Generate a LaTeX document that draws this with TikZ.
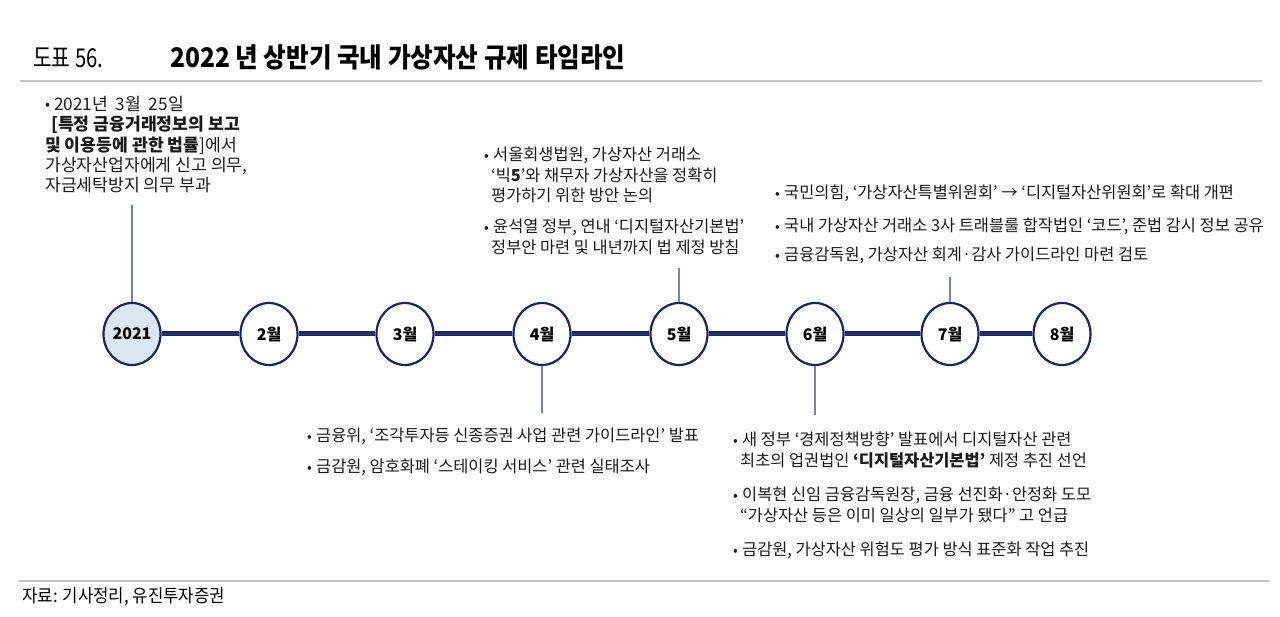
\documentclass[tikz,border=0pt]{standalone}
\usepackage{fontspec}
\setmainfont{Noto Sans CJK KR}
\usetikzlibrary{shapes.geometric}
\definecolor{navy}{HTML}{1B2556}
\definecolor{navymid}{HTML}{27356C}
\definecolor{conn}{HTML}{6F86AE}
\definecolor{rule}{HTML}{C4C4C4}
\definecolor{firstfill}{HTML}{DCE6F2}
\definecolor{txt}{HTML}{1A1A1A}
\newcommand{\bul}{\makebox[9pt][l]{\raisebox{0.5pt}{\scalebox{0.85}{•}}}}
\newcommand{\ind}{\hspace*{7pt}}
\tikzset{
  month/.style={ellipse, draw=navy, line width=2.2pt, fill=white, minimum width=57pt, minimum height=62pt, inner sep=0pt, font=\fontsize{16}{18}\selectfont\bfseries, text=black},
  spine/.style={draw=navy, line width=1.8pt, double=navymid, double distance=1.4pt},
  tick/.style={draw=conn, line width=1.1pt},
  note/.style={anchor=north west, inner sep=0pt, align=left, text=txt, font=\fontsize{16.4}{20.3}\selectfont},
  hrule/.style={draw=rule, line width=1.3pt}
}
\begin{document}
\begin{tikzpicture}[x=1pt,y=-1pt]
\useasboundingbox (0,0) rectangle (1280,617);
% header
\node[anchor=base west, inner sep=0pt, font=\fontsize{26}{28}\selectfont] (hdr) at (33,68) {\scalebox{0.78}[1]{도표 56.}};
\node[anchor=base west, inner sep=0pt, font=\fontsize{27}{30}\selectfont\bfseries] (title) at (170,68) {\scalebox{0.91}[1]{2022 년 상반기 국내 가상자산 규제 타임라인}};
\draw[hrule] (20,81) -- (1262,81);
\draw[hrule] (18,581) -- (1270,581);
\node[anchor=base west, inner sep=0pt, font=\fontsize{18}{20}\selectfont] (src) at (22,602) {\scalebox{0.93}[1]{자료: 기사정리, 유진투자증권}};
% months
\node[month, fill=firstfill] (c2021) at (132,334) {2021};
\node[month] (m2) at (269,334) {2월};
\node[month] (m3) at (405,334) {3월};
\node[month] (m4) at (542,334) {4월};
\node[month] (m5) at (679,334) {5월};
\node[month] (m6) at (815,334) {6월};
\node[month] (m7) at (950,334) {7월};
\node[month] (m8) at (1062,334) {8월};
\draw[spine] (c2021.east) -- (m2.west);
\draw[spine] (m2.east) -- (m3.west);
\draw[spine] (m3.east) -- (m4.west);
\draw[spine] (m4.east) -- (m5.west);
\draw[spine] (m5.east) -- (m6.west);
\draw[spine] (m6.east) -- (m7.west);
\draw[spine] (m7.east) -- (m8.west);
% ticks
\coordinate (t2021) at (132,205);
\coordinate (t5) at (679,268);
\coordinate (t7) at (950,277);
\coordinate (t4) at (542,413);
\coordinate (t6) at (815,415);
\draw[tick] (c2021.north) -- (t2021);
\draw[tick] (m5.north) -- (t5);
\draw[tick] (m7.north) -- (t7);
\draw[tick] (m4.south) -- (t4);
\draw[tick] (m6.south) -- (t6);
% notes
\node[note, font=\fontsize{17.2}{20.3}\selectfont] (n2021) at (45,96) {\bul 2021년\ \ 3월\ \ 25일\\
\hspace*{6pt}\textbf{[특정 금융거래정보의 보고}\\
\textbf{및 이용등에 관한 법률}]에서\\
가상자산업자에게 신고 의무,\\
자금세탁방지 의무 부과};
\node[note] (n5a) at (484,147) {\bul 서울회생법원, 가상자산 거래소\\
\ind ‘빅\textbf{5}’와 채무자 가상자산을 정확히\\
\ind 평가하기 위한 방안 논의};
\node[note] (n5b) at (484,219) {\bul 윤석열 정부, 연내 ‘디지털자산기본법’\\
\ind 정부안 마련 및 내년까지 법 제정 방침};
\node[note] (n7a) at (775,185) {\bul 국민의힘, ‘가상자산특별위원회’ → ‘디지털자산위원회’로 확대 개편};
\node[note] (n7b) at (775,218) {\bul 국내 가상자산 거래소 3사 트래블룰 합작법인 ‘코드’, 준법 감시 정보 공유};
\node[note] (n7c) at (775,247) {\bul 금융감독원, 가상자산 회계·감사 가이드라인 마련 검토};
\node[note] (n4a) at (307,428) {\bul 금융위, ‘조각투자등 신종증권 사업 관련 가이드라인’ 발표};
\node[note] (n4b) at (307,459) {\bul 금감원, 암호화폐 ‘스테이킹 서비스’ 관련 실태조사};
\node[note] (n6a) at (733,432) {\bul 새 정부 ‘경제정책방향’ 발표에서 디지털자산 관련\\
\ind 최초의 업권법인 \textbf{‘디지털자산기본법’} 제정 추진 선언};
\node[note] (n6b) at (733,487) {\bul 이복현 신임 금융감독원장, 금융 선진화·안정화 도모\\
\ind “가상자산 등은 이미 일상의 일부가 됐다” 고 언급};
\node[note] (n6c) at (733,542) {\bul 금감원, 가상자산 위험도 평가 방식 표준화 작업 추진};
\end{tikzpicture}
\end{document}
